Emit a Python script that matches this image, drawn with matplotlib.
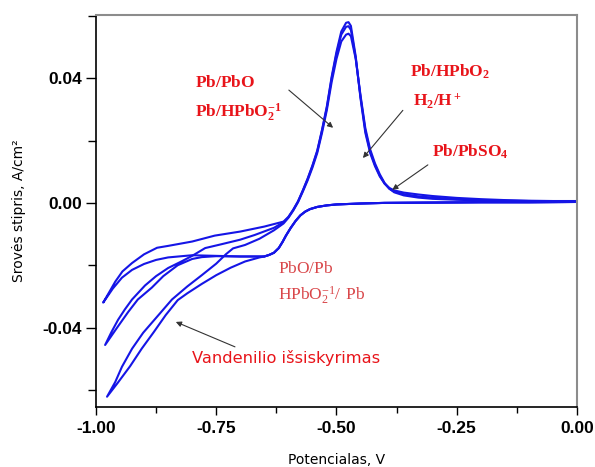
import numpy as np
import matplotlib
matplotlib.use("Agg")
import matplotlib.pyplot as plt
from matplotlib.ticker import MultipleLocator, FormatStrFormatter

plt.rcParams['mathtext.fontset'] = 'custom'
plt.rcParams['mathtext.rm'] = 'Liberation Serif'
plt.rcParams['mathtext.bf'] = 'Liberation Serif:bold'

# cathodic sweep from 0 V down to the plateau (same for all cycles)
cath_x = [0.0, -0.10, -0.20, -0.30, -0.40, -0.45, -0.50, -0.52, -0.54, -0.555, -0.565,
          -0.575, -0.585, -0.595, -0.605, -0.612, -0.62, -0.63, -0.64, -0.65]
cath_y = [0.0003, 0.0002, 0.0002, 0.0001, 0.0, -0.0002, -0.0005, -0.0008, -0.0013, -0.0020, -0.0028,
          -0.0040, -0.0058, -0.0080, -0.0105, -0.0125, -0.0145, -0.0160, -0.0167, -0.0172]

# plateau -> vertex (cathodic) and vertex -> anodic rise, per cycle
low1_x = [-0.70, -0.75, -0.80, -0.85, -0.875, -0.90, -0.925, -0.946, -0.965, -0.985]
low1_y = [-0.0172, -0.0170, -0.0168, -0.0175, -0.0183, -0.0196, -0.0215, -0.0240, -0.0275, -0.0320]
up1_x = [-0.970, -0.960, -0.945, -0.925, -0.90, -0.873, -0.85, -0.80, -0.753, -0.70, -0.65, -0.63]
up1_y = [-0.0280, -0.0253, -0.0220, -0.0193, -0.0165, -0.0144, -0.0138, -0.0124, -0.0105, -0.0092, -0.0076, -0.0068]

low2_x = [-0.70, -0.75, -0.78, -0.80, -0.83, -0.86, -0.884, -0.913, -0.933, -0.955, -0.981]
low2_y = [-0.0172, -0.0171, -0.0174, -0.0180, -0.0200, -0.0235, -0.0272, -0.0310, -0.0350, -0.0398, -0.0456]
up2_x = [-0.968, -0.954, -0.94, -0.925, -0.898, -0.875, -0.85, -0.825, -0.80, -0.773, -0.74, -0.70, -0.67, -0.63]
up2_y = [-0.0415, -0.0375, -0.0342, -0.0310, -0.0265, -0.0235, -0.0209, -0.0190, -0.0170, -0.0145, -0.0133, -0.0118, -0.0103, -0.0080]

low3_x = [-0.66, -0.69, -0.72, -0.75, -0.78, -0.81, -0.83, -0.855, -0.88, -0.905, -0.929, -0.955, -0.977]
low3_y = [-0.0175, -0.0188, -0.0208, -0.0232, -0.0260, -0.0290, -0.0312, -0.0360, -0.0415, -0.0468, -0.0524, -0.0578, -0.0622]
up3_x = [-0.960, -0.946, -0.925, -0.902, -0.87, -0.842, -0.81, -0.78, -0.75, -0.73, -0.715, -0.69, -0.66, -0.63]
up3_y = [-0.0575, -0.0526, -0.0468, -0.0417, -0.0360, -0.0310, -0.0268, -0.0232, -0.0195, -0.0165, -0.0146, -0.0135, -0.0115, -0.0088]

# anodic peak region
pk_x = [-0.61, -0.60, -0.59, -0.58, -0.57, -0.56, -0.55, -0.54, -0.53, -0.52, -0.51, -0.50, -0.49,
        -0.48, -0.475, -0.47, -0.46, -0.45, -0.44, -0.43, -0.42, -0.41, -0.40, -0.39, -0.38, -0.36,
        -0.33, -0.30, -0.25, -0.20, -0.15, -0.10, -0.05, 0.0]
pk_y1 = [-0.0060, -0.0045, -0.0022, 0.0005, 0.0040, 0.0078, 0.0120, 0.0168, 0.0235, 0.0310, 0.0405, 0.0485, 0.0550,
         0.0578, 0.0580, 0.0568, 0.0470, 0.0335, 0.0225, 0.0160, 0.0118, 0.0085, 0.0062, 0.0048, 0.0040, 0.0033,
         0.0027, 0.0022, 0.0016, 0.0012, 0.0009, 0.0007, 0.0006, 0.0006]
pk_y2 = [-0.0062, -0.0046, -0.0023, 0.0004, 0.0039, 0.0076, 0.0118, 0.0165, 0.0232, 0.0306, 0.0400, 0.0478, 0.0540,
         0.0565, 0.0567, 0.0555, 0.0465, 0.0340, 0.0232, 0.0165, 0.0122, 0.0088, 0.0062, 0.0045, 0.0036, 0.0028,
         0.0021, 0.0017, 0.0012, 0.0009, 0.0007, 0.0006, 0.0005, 0.0005]
pk_y3 = [-0.0066, -0.0048, -0.0025, 0.0002, 0.0036, 0.0072, 0.0113, 0.0160, 0.0225, 0.0298, 0.0388, 0.0462, 0.0518,
         0.0540, 0.0543, 0.0535, 0.0462, 0.0345, 0.0240, 0.0172, 0.0127, 0.0092, 0.0064, 0.0046, 0.0034, 0.0024,
         0.0017, 0.0013, 0.0010, 0.0008, 0.0006, 0.0005, 0.0004, 0.0004]

cycles = [(low1_x, low1_y, up1_x, up1_y, pk_y1),
          (low2_x, low2_y, up2_x, up2_y, pk_y2),
          (low3_x, low3_y, up3_x, up3_y, pk_y3)]

fig = plt.figure(figsize=(5.95, 4.67), dpi=100)
fig.set_facecolor('white')
ax = fig.add_axes([0.1613, 0.1285, 0.8084, 0.8394])

for lx, ly, ux, uy, py in cycles:
    x = np.concatenate([cath_x, lx, ux, pk_x])
    y = np.concatenate([cath_y, ly, uy, py])
    ax.plot(x, y, color='#1515e6', lw=1.5)

ax.set_xlim(-1.0, 0.0)
ax.set_ylim(-0.0655, 0.0603)

ax.xaxis.set_major_locator(MultipleLocator(0.25))
ax.xaxis.set_minor_locator(MultipleLocator(0.125))
ax.yaxis.set_major_locator(MultipleLocator(0.04))
ax.yaxis.set_minor_locator(MultipleLocator(0.02))
ax.xaxis.set_major_formatter(FormatStrFormatter('%.2f'))
ax.yaxis.set_major_formatter(FormatStrFormatter('%.2f'))
ax.tick_params(which='both', direction='out', top=False, right=False)
ax.tick_params(axis='x', which='major', length=6, width=1, pad=4)
ax.tick_params(axis='x', which='minor', length=4, width=1)
ax.tick_params(axis='y', which='major', length=7, width=1, pad=3)
ax.tick_params(axis='y', which='minor', length=6, width=1)
for lab in ax.get_xticklabels() + ax.get_yticklabels():
    lab.set_fontfamily('Liberation Sans')
    lab.set_fontweight('bold')
    lab.set_fontsize(12.5)

ax.spines['left'].set_linewidth(1.2)
ax.spines['bottom'].set_linewidth(1.2)
for s in ['top', 'right']:
    ax.spines[s].set_color('#8c8c8c')
    ax.spines[s].set_linewidth(1.5)

ax.set_xlabel('Potencialas, V', fontsize=10, labelpad=12)
ax.set_ylabel('Srovės stipris, A/cm²', fontsize=10, labelpad=12)

red = '#e8141a'
ax.text(-0.794, 0.0388, r'$\mathbf{Pb/PbO}$', color=red, fontsize=12.5, va='center')
ax.text(-0.794, 0.0289, r'$\mathbf{Pb/HPbO_2^{-1}}$', color=red, fontsize=12.5, va='center')
ax.text(-0.347, 0.0420, r'$\mathbf{Pb/HPbO_2}$', color=red, fontsize=12.5, va='center')
ax.text(-0.341, 0.0330, r'$\mathbf{H_2/H^+}$', color=red, fontsize=12.5, va='center')
ax.text(-0.301, 0.0164, r'$\mathbf{Pb/PbSO_4}$', color=red, fontsize=12.5, va='center')
ax.text(-0.622, -0.0209, r'$\mathrm{PbO/Pb}$', color='#d9474a', fontsize=12.5, va='center')
ax.text(-0.622, -0.0298, r'$\mathrm{HPbO_2^{-1}/\ Pb}$', color='#d9474a', fontsize=12.5, va='center')
ax.text(-0.80, -0.0497, 'Vandenilio išsiskyrimas', color=red, fontsize=11.7, va='center')

arrow = dict(arrowstyle='-|>', color='#333333', lw=0.8, mutation_scale=8, shrinkA=0, shrinkB=0)
ax.annotate('', xy=(-0.507, 0.0241), xytext=(-0.599, 0.0362), arrowprops=arrow)
ax.annotate('', xy=(-0.445, 0.0144), xytext=(-0.362, 0.0297), arrowprops=arrow)
ax.annotate('', xy=(-0.384, 0.0042), xytext=(-0.310, 0.0122), arrowprops=arrow)
ax.annotate('', xy=(-0.834, -0.0382), xytext=(-0.711, -0.0462), arrowprops=arrow)

fig.savefig('out.png', dpi=100)
